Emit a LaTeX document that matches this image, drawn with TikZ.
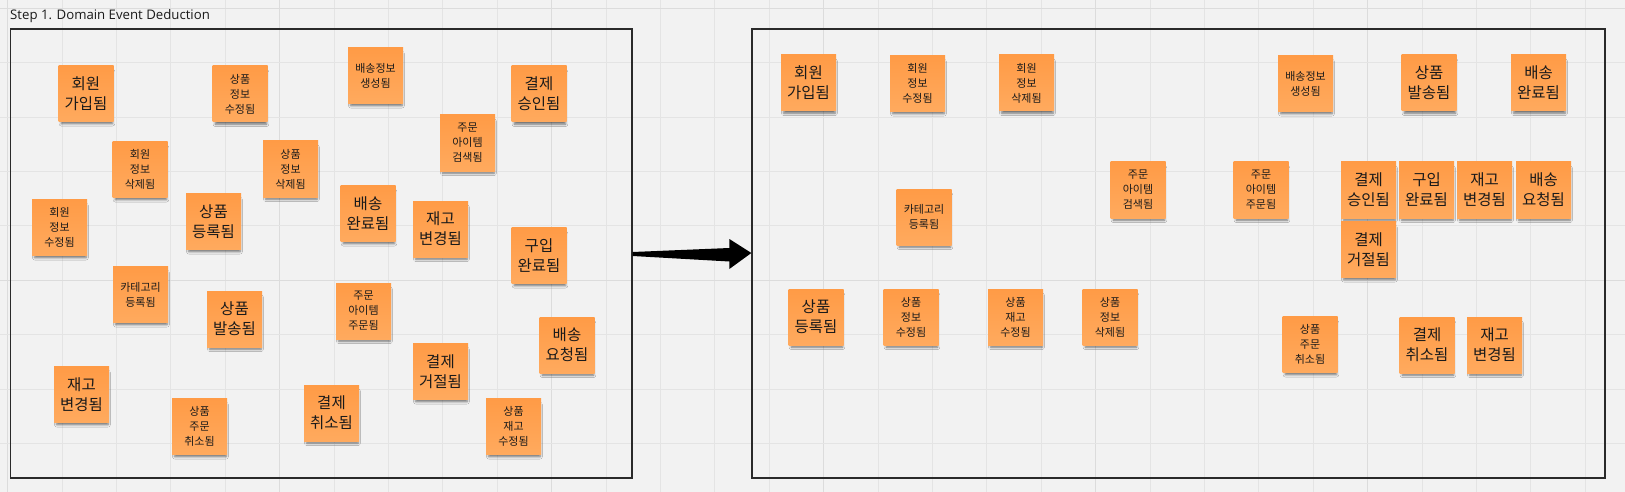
\documentclass[tikz,border=0pt]{standalone}
\usepackage{fontspec}
\setmainfont{Open Sans}
\newfontfamily\cjk{Noto Sans CJK KR}
\usetikzlibrary{shadows.blur}
\definecolor{bg}{HTML}{F2F2F2}
\definecolor{gridminor}{HTML}{E4E4E4}
\definecolor{gridmajor}{HTML}{DCDCDC}
\definecolor{noteTop}{HTML}{FF9B46}
\definecolor{noteBot}{HTML}{FFAA5E}
\definecolor{notetext}{HTML}{1A1A1A}
\definecolor{framecol}{HTML}{2A2A2A}
\tikzset{
  note/.style={rectangle, inner sep=0pt, minimum width=55pt, minimum height=56pt,
    top color=noteTop, bottom color=noteBot, draw=none, align=center, text=notetext,
    blur shadow={shadow xshift=1pt, shadow yshift=-4.5pt, shadow scale=0.93,
      shadow blur radius=2.5pt, shadow opacity=55}},
  bignote/.style={note, font=\cjk\fontsize{15.5}{20}\selectfont},
  smallnote/.style={note, font=\cjk\fontsize{11}{15}\selectfont},
  frame/.style={rectangle, draw=framecol, line width=1.3pt, inner sep=0pt},
  gridline/.style={draw=gridminor, line width=1pt},
  gridmaj/.style={draw=gridmajor, line width=1pt},
  titletext/.style={font=\fontsize{13.2}{16}\selectfont, text=notetext, inner sep=0pt},
}
\begin{document}
\begin{tikzpicture}[x=1pt,y=1pt]
\fill[bg] (0,0) rectangle (1625,-492);
\useasboundingbox (0,0) rectangle (1625,-492);
% grid
\foreach \k in {0,...,29}{
  \pgfmathsetmacro{\gx}{7.6+54.4*\k}
  \pgfmathtruncatemacro{\m}{mod(\k,5)}
  \ifnum\m=0 \draw[gridmaj] (\gx,0) -- (\gx,-492); \else \draw[gridline] (\gx,0) -- (\gx,-492); \fi
}
\foreach \k in {0,...,8}{
  \pgfmathsetmacro{\gy}{-(8.3+54.4*\k)}
  \pgfmathtruncatemacro{\m}{mod(\k,5)}
  \ifnum\m=0 \draw[gridmaj] (0,\gy) -- (1625,\gy); \else \draw[gridline] (0,\gy) -- (1625,\gy); \fi
}
% title
\node[titletext, anchor=base west] (title) at (10,-20) {Step 1. Domain Event Deduction};
% frames
\node[frame, minimum width=621.7pt, minimum height=449pt] (leftframe) at (321.15,-253.5) {};
\node[frame, minimum width=853pt, minimum height=449pt] (rightframe) at (1178.5,-253.5) {};
% arrow
\fill[black] ([yshift=1.5pt]leftframe.east) -- ([xshift=-22pt,yshift=5.5pt]rightframe.west)
  -- ([xshift=-22pt,yshift=14.5pt]rightframe.west) -- ([yshift=0.5pt]rightframe.west)
  -- ([xshift=-22pt,yshift=-15.5pt]rightframe.west) -- ([xshift=-22pt,yshift=-8pt]rightframe.west)
  -- ([yshift=-2.5pt]leftframe.east) -- cycle;
% left notes
\node[bignote]   (L1)  at (86,-93.5)    {회원\\가입됨};
\node[smallnote] (L2)  at (240,-94)     {상품\\정보\\수정됨};
\node[smallnote] (L3)  at (140,-169.5)  {회원\\정보\\삭제됨};
\node[smallnote] (L4)  at (290.5,-169)  {상품\\정보\\삭제됨};
\node[smallnote] (L5)  at (59.5,-227.5) {회원\\정보\\수정됨};
\node[bignote]   (L6)  at (213.5,-221.5){상품\\등록됨};
\node[smallnote] (L7)  at (375.5,-75.5) {배송정보\\생성됨};
\node[bignote]   (L8)  at (539,-94)     {결제\\승인됨};
\node[smallnote] (L9)  at (467.5,-143)  {주문\\아이템\\검색됨};
\node[bignote]   (L10) at (368,-213.5)  {배송\\완료됨};
\node[bignote]   (L11) at (440.5,-229)  {재고\\변경됨};
\node[bignote]   (L12) at (539,-255.5)  {구입\\완료됨};
\node[smallnote] (L13) at (140.5,-294.5){카테고리\\등록됨};
\node[bignote]   (L14) at (234.5,-319)  {상품\\발송됨};
\node[bignote]   (L15) at (81.5,-394.5) {재고\\변경됨};
\node[smallnote] (L16) at (199.5,-426.5){상품\\주문\\취소됨};
\node[smallnote] (L17) at (363.5,-311)  {주문\\아이템\\주문됨};
\node[bignote]   (L18) at (567,-345)    {배송\\요청됨};
\node[bignote]   (L19) at (440.5,-371.5){결제\\거절됨};
\node[bignote]   (L20) at (331.5,-413)  {결제\\취소됨};
\node[smallnote] (L21) at (513.5,-426.5){상품\\재고\\수정됨};
% right notes
\node[bignote]   (R1)  at (808.5,-83)   {회원\\가입됨};
\node[smallnote] (R2)  at (917.5,-83.5) {회원\\정보\\수정됨};
\node[smallnote] (R3)  at (1026.5,-83)  {회원\\정보\\삭제됨};
\node[smallnote] (R4)  at (924,-217)    {카테고리\\등록됨};
\node[smallnote] (R5)  at (1138,-190)   {주문\\아이템\\검색됨};
\node[smallnote] (R6)  at (1305.5,-83.5){배송정보\\생성됨};
\node[bignote]   (R7)  at (1429,-83)    {상품\\발송됨};
\node[bignote]   (R8)  at (1538.5,-83)  {배송\\완료됨};
\node[smallnote] (R9)  at (1261,-190)   {주문\\아이템\\주문됨};
\node[bignote]   (R10) at (1368.5,-190) {결제\\승인됨};
\node[bignote]   (R11) at (1426.5,-190) {구입\\완료됨};
\node[bignote]   (R12) at (1484.5,-190) {재고\\변경됨};
\node[bignote]   (R13) at (1543.5,-190) {배송\\요청됨};
\node[bignote]   (R14) at (1368.5,-249.5){결제\\거절됨};
\node[bignote]   (R15) at (816,-317)    {상품\\등록됨};
\node[smallnote] (R16) at (911,-317)    {상품\\정보\\수정됨};
\node[smallnote] (R17) at (1015.5,-317) {상품\\재고\\수정됨};
\node[smallnote] (R18) at (1110,-317)   {상품\\정보\\삭제됨};
\node[smallnote] (R19) at (1310,-344.5) {상품\\주문\\취소됨};
\node[bignote]   (R20) at (1427,-345)   {결제\\취소됨};
\node[bignote]   (R21) at (1494.5,-345) {재고\\변경됨};
\end{tikzpicture}
\end{document}
